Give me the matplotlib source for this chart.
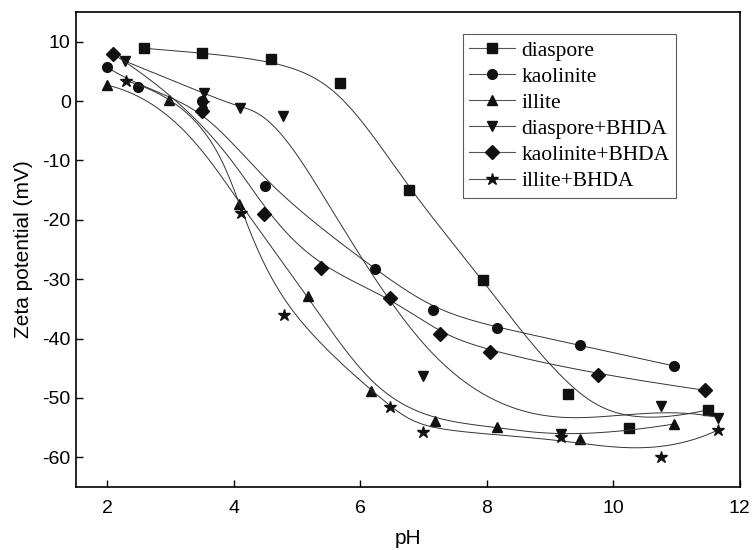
import numpy as np
import matplotlib.pyplot as plt

# zeta potential vs pH
ph_dia = [2.59, 3.5, 4.59, 5.68, 6.77, 7.95, 9.28, 10.25, 11.5]
zp_dia = [8.9, 8.1, 7.1, 3.0, -15.0, -30.1, -49.3, -55.0, -52.0]

ph_kao = [2.0, 2.49, 3.5, 4.5, 6.23, 7.16, 8.17, 9.47, 10.96]
zp_kao = [5.7, 2.4, 0.0, -14.3, -28.3, -35.2, -38.2, -41.1, -44.6]

ph_ill = [2.0, 2.98, 4.09, 5.17, 6.18, 7.18, 8.17, 9.47, 10.96]
zp_ill = [2.7, 0.2, -17.3, -32.8, -48.8, -53.9, -54.9, -56.9, -54.4]

ph_dia_b = [2.29, 3.53, 4.1, 4.78, 6.99, 9.18, 10.76, 11.66]
zp_dia_b = [6.7, 1.3, -1.2, -2.5, -46.3, -56.1, -51.3, -53.3]

ph_kao_b = [2.1, 3.5, 4.48, 5.38, 6.48, 7.27, 8.06, 9.76, 11.45]
zp_kao_b = [7.9, -1.7, -19.0, -28.1, -33.1, -39.2, -42.2, -46.1, -48.7]

ph_ill_b = [2.3, 3.52, 4.12, 4.8, 6.48, 6.99, 9.18, 10.76, 11.66]
zp_ill_b = [3.4, -0.3, -18.9, -36.0, -51.5, -55.7, -56.6, -59.9, -55.4]

labels = ['diaspore', 'kaolinite', 'illite', 'diaspore+BHDA', 'kaolinite+BHDA', 'illite+BHDA']
markers = ['s', 'o', '^', 'v', 'D', '*']
msizes = [6.5, 7, 7, 7, 7.5, 9]


def bspline(px, py, n=400, k=3):
    # clamped uniform B-spline, data points used as control points
    P = np.column_stack([px, py])
    m = len(P)
    inner = np.linspace(0, 1, m - k + 1)
    knots = np.concatenate([np.zeros(k), inner, np.ones(k)])
    out = []
    for uu in np.linspace(0, 1, n):
        if uu >= 1:
            out.append(P[-1])
            continue
        j = np.searchsorted(knots, uu, side='right') - 1
        d = [P[j - k + r].copy() for r in range(k + 1)]
        for r in range(1, k + 1):
            for i in range(k, r - 1, -1):
                a = (uu - knots[j - k + i]) / (knots[i + 1 + j - r] - knots[j - k + i])
                d[i] = (1 - a) * d[i - 1] + a * d[i]
        out.append(d[k])
    out = np.array(out)
    return out[:, 0], out[:, 1]


plt.rcParams['font.family'] = ['Liberation Sans', 'DejaVu Sans']
plt.rcParams['axes.unicode_minus'] = False

fig = plt.figure(figsize=(7.52, 5.5), dpi=100)
ax = fig.add_axes([0.1004, 0.1145, 0.883, 0.8636])

series = [(ph_dia, zp_dia), (ph_kao, zp_kao), (ph_ill, zp_ill),
          (ph_dia_b, zp_dia_b), (ph_kao_b, zp_kao_b), (ph_ill_b, zp_ill_b)]
handles = []
for (x, y), lab, mk, ms in zip(series, labels, markers, msizes):
    cx, cy = bspline(x, y)
    ax.plot(cx, cy, color='#333333', lw=0.7)
    ax.plot(x, y, linestyle='none', marker=mk, color='#111111', ms=ms)
    h, = ax.plot([], [], color='#555555', lw=0.8, marker=mk, ms=ms,
                 markerfacecolor='#111111', markeredgecolor='#111111', label=lab)
    handles.append(h)

ax.set_xlim(1.5, 12)
ax.set_ylim(-65, 15)
ax.set_xticks([2, 4, 6, 8, 10, 12])
ax.set_yticks([10, 0, -10, -20, -30, -40, -50, -60])
ax.tick_params(direction='in', length=5, labelsize=14, width=1)
ax.tick_params(axis='x', pad=9)
for s in ax.spines.values():
    s.set_linewidth(1.2)
ax.set_xlabel('pH', fontsize=15, labelpad=9)
ax.set_ylabel('Zeta potential (mV)', fontsize=15, labelpad=7)

leg = ax.legend(handles=handles, loc='upper left', bbox_to_anchor=(0.5836, 0.9537),
                frameon=True, fancybox=False, edgecolor='#333333',
                prop={'family': 'Liberation Serif', 'size': 15.5},
                handlelength=2.1, handletextpad=0.3, labelspacing=0.28,
                borderpad=0.3, borderaxespad=0)
leg.get_frame().set_linewidth(0.8)

plt.savefig('out.png', dpi=100)
